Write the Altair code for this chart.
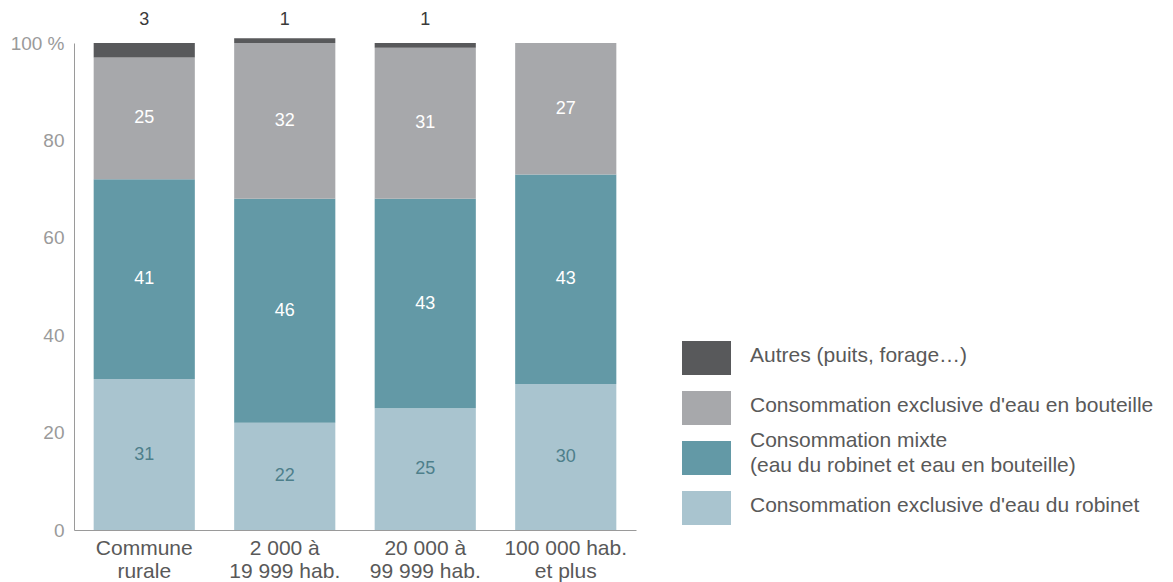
import altair as alt
import pandas as pd

categories = ["Commune\nrurale", "2 000 à\n19 999 hab.", "20 000 à\n99 999 hab.", "100 000 hab.\net plus"]
series = [
    "Consommation exclusive d'eau du robinet",
    "Consommation mixte|(eau du robinet et eau en bouteille)",
    "Consommation exclusive d'eau en bouteille",
    "Autres (puits, forage…)",
]
tap = [31, 22, 25, 30]
mixed = [41, 46, 43, 43]
bottle = [25, 32, 31, 27]
others = [3, 1, 1, 0]
colors = ["#a9c4cf", "#6399a6", "#a7a8ab", "#58595b"]
y_ticks = [0, 20, 40, 60, 80, 100]

FONT = "Liberation Sans"

rows = []
for i, c in enumerate(categories):
    for j, vals in enumerate([tap, mixed, bottle, others]):
        rows.append({"cat": c, "series": series[j], "order": j, "value": vals[i]})
df = pd.DataFrame(rows)

color_scale = alt.Scale(domain=series, range=colors)

base = (
    alt.Chart(df)
    .transform_filter("datum.value > 0")
    .transform_stack(stack="value", groupby=["cat"], as_=["y0", "y1"],
                     sort=[alt.SortField("order", order="ascending")])
    .transform_calculate(mid="(datum.y0 + datum.y1) / 2")
)

x_enc = alt.X(
    "cat:N", sort=categories,
    scale=alt.Scale(paddingInner=0.28, paddingOuter=0.14),
    axis=alt.Axis(title=None, labelAngle=0, labelExpr="split(datum.label, '\\n')",
                  ticks=False, domainColor="#9a9a9a", labelColor="#595959",
                  labelFontSize=21, labelPadding=7, labelLineHeight=23,
                  labelFont=FONT, labelBaseline="top"),
)
y_scale = alt.Scale(domain=[0, 100], nice=False)

bars = base.mark_bar().encode(
    x=x_enc,
    y=alt.Y("y0:Q", scale=y_scale,
            axis=alt.Axis(values=y_ticks, title=None, ticks=False, grid=False,
                          domainColor="#9a9a9a", labelColor="#9a9a9a", labelFontSize=19,
                          labelPadding=10, labelFont=FONT,
                          labelExpr="datum.value == 100 ? '100 %' : datum.label",
                          minExtent=59, maxExtent=59)),
    y2="y1",
    color=alt.Color("series:N", scale=color_scale, legend=None),
)

white_txt = base.transform_filter("datum.order == 1 || datum.order == 2").mark_text(
    color="white", fontSize=18, font=FONT, baseline="middle"
).encode(x=x_enc, y=alt.Y("mid:Q", scale=y_scale, title=None), text="value:Q")

tap_txt = base.transform_filter("datum.order == 0").mark_text(
    color="#4e7f8b", fontSize=18, font=FONT, baseline="middle"
).encode(x=x_enc, y=alt.Y("mid:Q", scale=y_scale, title=None), text="value:Q")

top_txt = base.transform_filter("datum.order == 3").mark_text(
    color="#3a3a3a", fontSize=18, font=FONT, baseline="middle"
).encode(x=x_enc, y=alt.value(-23), text="value:Q")

main = alt.layer(bars, white_txt, tap_txt, top_txt).properties(width=562, height=487)

legend_order = series[::-1]
leg_df = pd.DataFrame({"series": series})
leg_y = alt.Y("series:N", sort=legend_order,
              scale=alt.Scale(range=[290, 490], paddingInner=0, paddingOuter=0), axis=None)
leg_base = alt.Chart(leg_df).transform_calculate(lines="split(datum.series, '|')")
leg_rect = leg_base.mark_bar(size=34).encode(
    y=leg_y, x=alt.value(0), x2=alt.value(49),
    color=alt.Color("series:N", scale=color_scale, legend=None),
)
leg_text1 = leg_base.transform_filter("length(datum.lines) == 1").mark_text(
    align="left", baseline="middle", fontSize=21, font=FONT, color="#595959", dy=-2
).encode(y=leg_y, x=alt.value(68), text="lines:N")
leg_text2 = leg_base.transform_filter("length(datum.lines) > 1").mark_text(
    align="left", baseline="middle", fontSize=21, font=FONT, color="#595959",
    lineHeight=25, dy=-17
).encode(y=leg_y, x=alt.value(68), text="lines:N")
legend = alt.layer(leg_rect, leg_text1, leg_text2).properties(width=420, height=487)

chart = (
    alt.hconcat(main, legend, spacing=46)
    .properties(padding={"left": 2, "top": 3, "right": 5, "bottom": 5})
    .configure(font=FONT, view=alt.ViewConfig(stroke=None))
)

chart.save("out.html", embed_options={"renderer": "svg", "actions": False})
